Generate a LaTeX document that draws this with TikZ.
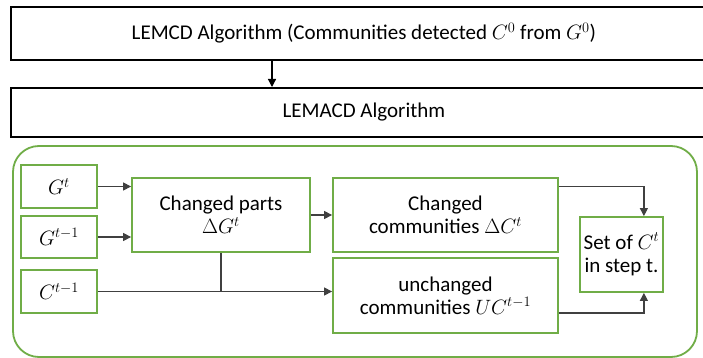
\documentclass[tikz,border=0pt]{standalone}
\usepackage{fontspec}
\setmainfont{Carlito}
\usepackage{xcolor}
\usetikzlibrary{arrows.meta, positioning, calc}

\definecolor{offgreen}{RGB}{112,173,71}
\definecolor{linegray}{RGB}{64,64,64}

\begin{document}
\begin{tikzpicture}[
      x=1pt, y=-1pt,
      every node/.style={font=\fontsize{21}{23}\selectfont},
      algbox/.style={draw=black, line width=1.8pt, minimum height=53pt, minimum width=706pt, anchor=north west},
      gbox/.style={draw=offgreen, line width=1.8pt, align=center, inner sep=0pt},
      arr/.style={-{Triangle[length=8pt, width=8pt]}, draw=linegray, line width=1.2pt},
      ln/.style={draw=linegray, line width=1.2pt}
    ]
    \useasboundingbox (0,0) rectangle (703,358);
    \clip (0,0) rectangle (703,358);
    % algorithm boxes
    \node[algbox] (lemcd) at (10,6) {LEMCD Algorithm (Communities detected $C^0$ from $G^0$)};
    \node[algbox, minimum height=49pt] (lemacd) at (10,87) {LEMACD Algorithm};
    \draw[arr, draw=black] ($(lemcd.south west)+(262,0)$) -- ($(lemacd.north west)+(262,0)$);
    % update step
    \draw[draw=offgreen, line width=1.8pt, rounded corners=26pt] (13,146) rectangle (697,357);
    \node[gbox, minimum width=76pt, minimum height=43pt] (gt)  at (59,186.5) {$G^t$};
    \node[gbox, minimum width=76pt, minimum height=42pt] (gtm) at (59,237) {$G^{t-1}$};
    \node[gbox, minimum width=76pt, minimum height=43pt] (ctm) at (59,291.5) {$C^{t-1}$};
    \node[gbox, minimum width=178pt, minimum height=74pt] (chp) at (221,215) {Changed parts\\$\Delta G^t$};
    \node[gbox, minimum width=225pt, minimum height=74pt] (chc) at (445.5,215) {Changed\\communities $\Delta C^t$};
    \node[gbox, minimum width=225pt, minimum height=75pt] (unc) at (445.5,295.5) {unchanged\\communities $UC^{t-1}$};
    \node[gbox, minimum width=83pt, minimum height=75pt] (set) at (621.5,254.5) {Set of $C^t$\\in step t.};
    \draw[arr] (gt) -- (gt -| chp.west);
    \draw[arr] (gtm) -- (gtm -| chp.west);
    \draw[arr] (chp) -- (chc);
    \draw[arr] (ctm) -- (ctm -| unc.west);
    \draw[ln] (chp.south) -- (chp.south |- ctm);
    \draw[arr] (chc.east |- gt) -| ([xshift=-20pt]set.north east);
    \draw[arr] (unc.east |- 0,313) -| ([xshift=-20pt]set.south east);
  \end{tikzpicture}
\end{document}
